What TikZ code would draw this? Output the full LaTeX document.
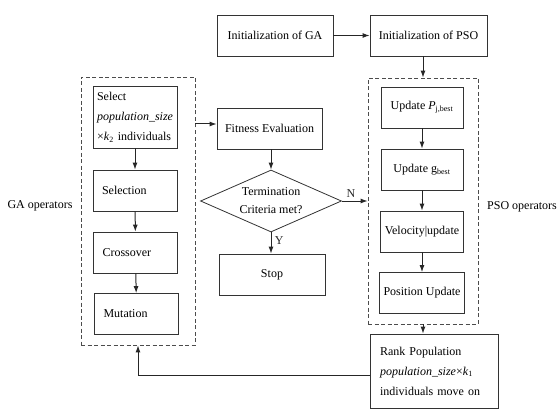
\documentclass[tikz,border=0pt]{standalone}
\usepackage{fontspec}
\setmainfont{Liberation Serif}
\usepackage{tikz}
\usetikzlibrary{shapes.geometric, arrows.meta, positioning, calc}
\tikzset{
  flowbox/.style={
    draw=black!80, line width=0.8pt, align=left,
    font=\fontsize{12}{20}\selectfont, fill=white,
    minimum height=41pt, inner sep=4pt
  },
  opgroup/.style={
    draw=gray!60!black, dashed, line width=0.8pt,
    dash pattern=on 4pt off 2.5pt
  },
  flowarrow/.style={
    -{Latex[length=7pt,width=5pt]}, line width=1pt, color=black!85
  },
  flowlabel/.style={
    font=\fontsize{12}{14}\selectfont
  },
}

\begin{document}
\begin{tikzpicture}[x=1pt, y=-1pt]
  \useasboundingbox (0,0) rectangle (557,409);

  % --- Initialization ---
  \node[flowbox, minimum width=116pt] (initga) at (275,35.5) {Initialization of GA};
  \node[flowbox, minimum width=117pt] (initpso) at (428.5,35.5) {Initialization of PSO};

  % --- PSO operators ---
  \node[opgroup, minimum width=110pt, minimum height=246pt] (psogrp) at (423,201) {};
  \node[flowbox, minimum width=82pt] (pbest) at (422,107.5) {Update \textit{P}\textsubscript{j,best}};
  \node[flowbox, minimum width=82pt] (gbest) at (422,169.5) {Update g\textsubscript{best}};
  \node[flowbox, minimum width=82pt] (velup) at (422,231.5) {Velocity|update};
  \node[flowbox, minimum width=82pt] (posup) at (422,293) {Position Update};
  \node[flowlabel] (psolbl) at (522,207) {PSO operators};

  \node[flowbox, minimum width=128pt, minimum height=74pt, text width=108pt, inner xsep=10pt]
    (rankpop) at (434,371)
    {Rank Population\\\textit{population\_size}×\textit{k}\textsubscript{1}\\individuals move on};

  % --- GA operators ---
  \node[opgroup, minimum width=114pt, minimum height=268pt] (gagrp) at (138,211) {};
  \node[flowbox, minimum width=84pt, minimum height=62pt, text width=76pt]
    (selpop) at (135,117)
    {Select\\\textit{population\_size}\\×\textit{k}\textsubscript{2} individuals};
  \node[flowbox, minimum width=84pt, text width=66pt, inner xsep=9pt] (selection) at (135,190.5) {Selection};
  \node[flowbox, minimum width=84pt, text width=66pt, inner xsep=9pt] (crossover) at (135.5,252.5) {Crossover};
  \node[flowbox, minimum width=84pt, text width=66pt, inner xsep=9pt] (mutation) at (136.5,314) {Mutation};
  \node[flowlabel] (galbl) at (40,206) {GA operators};

  % --- Evaluation and test ---
  \node[flowbox, minimum width=105pt] (fitness) at (269.5,128.5) {Fitness Evaluation};
  \node[draw=black!80, line width=0.8pt, diamond, aspect=2.27, inner sep=0pt,
    minimum width=141pt, minimum height=62pt, align=center,
    font=\fontsize{12}{18}\selectfont] (termin) at (271,201) {Termination\\Criteria met?};
  \node[flowbox, minimum width=106pt] (stop) at (272,274.5) {Stop};

  % --- Arrows ---
  \draw[flowarrow] (initga) -- (initpso);
  \draw[flowarrow] (initpso.south -| psogrp.north) -- (psogrp.north);
  \draw[flowarrow] (pbest) -- (gbest);
  \draw[flowarrow] (gbest) -- (velup);
  \draw[flowarrow] (velup) -- (posup);
  \draw[flowarrow] (psogrp.south) -- (psogrp.south |- rankpop.north);

  \draw[flowarrow] (selpop) -- (selection);
  \draw[flowarrow] (selection) -- (crossover);
  \draw[flowarrow] (crossover) -- (mutation);

  \draw[flowarrow] (gagrp.east |- 0,124) -- (fitness.west |- 0,124);
  \draw[flowarrow] (fitness.south -| termin.north) -- (termin.north);
  \draw[flowarrow] (termin.east) -- node[flowlabel, above, pos=0.35] {N} (termin.east -| psogrp.west);
  \draw[flowarrow] (termin.south) -- node[flowlabel, right, pos=0.4] {Y} (termin.south |- stop.north);

  \draw[flowarrow] (rankpop.west |- 0,375) -| (gagrp.south);
\end{tikzpicture}
\end{document}
